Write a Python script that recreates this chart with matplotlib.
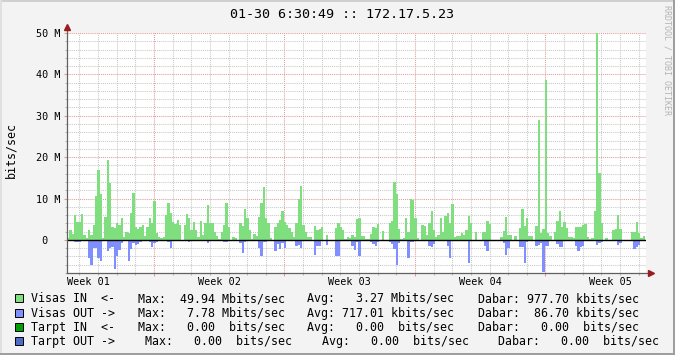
import matplotlib
matplotlib.use("Agg")
import matplotlib.pyplot as plt
import numpy as np
from matplotlib.patches import Rectangle
from matplotlib.lines import Line2D

# chart data (Mbits/sec, one value per 3 hours)
title = "01-30 6:30:49 :: 172.17.5.23"
step_days = 1 / 8
visas_in = [
    0.4, 2.4, 1.5, 6.0, 4.3, 4.3, 6.2, 1.2, 0.5, 2.4,
    1.2, 3.5, 10.5, 17.0, 11.0, 0.4, 5.6, 19.4, 13.7, 3.2,
    2.8, 4.0, 3.6, 5.2, 0.6, 2.0, 1.6, 6.5, 11.3, 3.0,
    2.7, 3.2, 3.7, 1.0, 3.2, 5.2, 4.2, 9.3, 1.6, 0.6,
    0.5, 0.8, 6.0, 8.9, 6.5, 4.4, 3.9, 4.8, 3.6, 0.0,
    3.6, 6.3, 5.2, 2.4, 4.4, 2.5, 0.6, 4.6, 1.2, 4.0,
    8.5, 4.0, 4.2, 2.0,
    1.0, 0.2, 2.0, 3.6, 9.0, 3.2, 0.0, 0.8, 0.4, 0.0,
    4.2, 3.4, 7.5, 5.4, 2.4, 0.2, 1.5, 1.0, 5.6, 8.9,
    12.7, 5.2, 4.0, 0.4, 0.0, 3.2, 4.2, 4.8, 7.0, 4.4,
    3.6, 2.8, 2.0, 0.6, 4.0, 9.8, 13.0, 3.6, 2.0, 0.6,
    0.6, 0.0, 3.4, 2.4, 2.7, 3.0, 0.0, 1.1, 0.0, 0.0,
    0.0, 2.8, 4.0, 3.2, 2.4, 0.2, 0.6, 0.4, 1.2, 0.6, 5.0, 5.2,
    1.0, 1.0, 0.2, 0.2, 1.5, 3.2, 2.8, 3.9, 0.0, 2.2,
    0.0, 0.0, 4.0, 4.6, 14.1, 11.1, 2.6, 0.2, 0.4, 5.2,
    2.0, 10.0, 9.7, 5.2, 0.4, 0.0, 3.6, 3.4, 1.2, 4.0,
    7.0, 2.3, 0.8, 1.2, 5.3, 2.0, 5.8, 6.5, 4.0, 8.6,
    0.6, 1.0, 1.0, 1.6, 1.2, 2.4, 5.8, 4.2, 0.0, 1.8,
    0.0, 0.0, 1.8, 2.0, 4.6, 3.9, 0.0, 0.0, 0.0, 0.0, 0.6, 2.2,
    5.6, 1.2, 1.2, 0.0, 1.0, 0.0, 2.8, 7.4, 3.4, 5.4,
    1.0, 1.0, 0.0, 3.4, 29.0, 1.6, 2.7, 38.6, 1.6, 1.0,
    0.0, 1.9, 4.6, 6.9, 3.0, 4.4, 2.8, 0.6, 0.6, 0.4,
    3.1, 3.0, 3.2, 3.6, 3.9, 0.6, 0.2, 0.4, 7.0, 49.9,
    16.1, 4.2, 0.0, 0.4, 0.0, 0.0, 2.4, 2.6, 5.9, 2.6,
    0.0, 0.0, 0.0, 0.0, 1.8, 1.8, 4.4, 1.6, 0.4, 1.0,
]
visas_out = [
    0, 0, 0, 0.4, 0.6, 0.4, 0, 0, 0, 4.4,
    6.0, 2.0, 2.0, 4.4, 5.0, 0, 0, 2.8, 2.0, 1.6,
    7.1, 4.0, 2.4, 0.8, 0, 0, 5.0, 2.3, 0.8, 1.2,
    1.0, 0.6, 0, 0, 0, 0.5, 1.6, 0.8, 0.4, 0,
    0, 0, 0, 0.4, 2.0, 0, 0, 0, 0, 0,
    0, 0, 0.4, 0, 0, 0, 0, 0, 0, 0,
    0.8, 0, 0, 0,
    0, 0, 0, 0.4, 0.6, 0, 0, 0, 0, 0,
    0.8, 3.2, 0.6, 0, 0, 0, 0, 0, 2.0, 4.0,
    0.4, 0.4, 0, 0, 0, 2.6, 1.0, 2.3, 0.8, 2.0,
    0, 0, 0, 0, 1.4, 1.2, 2.0, 0, 0, 0,
    0, 0, 3.6, 1.4, 1.4, 0, 0, 1.2, 0, 0,
    0, 3.9, 3.9, 0, 0, 0, 0, 0, 1.4, 2.4, 0.4, 3.9,
    0, 0, 0, 0, 0.6, 1.0, 1.5, 0.4, 0, 0,
    0, 0, 0.6, 1.0, 2.3, 6.0, 0.8, 0, 0, 0,
    4.4, 0.6, 0.6, 0, 0, 0, 0, 0, 0, 1.4,
    1.8, 1.0, 0, 0, 0, 0, 0, 1.4, 4.4, 0,
    0, 0, 0, 0, 0, 0, 5.5, 0, 0, 0,
    0, 0, 0, 1.4, 2.8, 0, 0, 0, 0, 0, 0, 0.8,
    3.6, 2.0, 0, 0, 0, 0, 1.8, 1.6, 5.5, 0.6,
    0, 0, 0, 1.5, 1.2, 0.8, 7.78, 1.4, 1.4, 0,
    0, 0, 1.0, 1.8, 1.8, 0, 0, 0, 0, 0,
    1.4, 2.8, 1.6, 1.4, 0, 0, 0, 0, 0, 1.2,
    0.8, 0.5, 0, 0, 0, 0, 0, 0, 1.2, 0.8,
    0, 0, 0, 0, 0, 2.3, 1.6, 1.2, 0, 0,
]
week_labels = ["Week 01", "Week 02", "Week 03", "Week 04", "Week 05"]
first_week_start = 4.667 - 7  # days from left edge of plot
first_day_start = 0.667
y_ticks = [0, 10, 20, 30, 40, 50]
y_tick_labels = [" 0  ", "10 M", "20 M", "30 M", "40 M", "50 M"]

legend_names = ["Visas IN  <-", "Visas OUT ->", "Tarpt IN  <-", "Tarpt OUT ->"]
legend_colors = ["#7FDF7F", "#7F8FFF", "#00A000", "#4C6CC8"]
max_vals = [49.94, 7.78, 0.00, 0.00]
max_units = ["M", "M", " ", " "]
avg_vals = [3.27, 717.01, 0.00, 0.00]
avg_units = ["M", "k", " ", " "]
cur_vals = [977.70, 86.70, 0.00, 0.00]
cur_units = ["k", "k", " ", " "]

W, H = 675, 355
fig = plt.figure(figsize=(W / 100, H / 100), dpi=100, facecolor="#F3F3F3")
ax = fig.add_axes([67 / W, 1 - 273 / H, 579 / W, 240 / H])
ax.set_facecolor("white")

n = len(visas_in)
edges = np.arange(n + 1) * step_days
ax.stairs(visas_in, edges, baseline=0, fill=True, color="#7FDF7F", lw=0)
ax.stairs(-np.array(visas_out), edges, baseline=0, fill=True, color="#7F8FFF", lw=0)
ax.axhline(0, color="black", lw=1.0, zorder=3)

xmax = 31.06
ax.set_xlim(0, xmax)
ax.set_ylim(-8, 50)

# grid
ax.set_axisbelow(True)
ax.set_xticks(np.arange(first_week_start + 7, xmax, 7))
ax.set_xticks(np.arange(first_day_start, xmax, 1), minor=True)
ax.set_yticks(np.arange(0, 51, 10))
ax.set_yticks(np.arange(-8, 51, 2), minor=True)
ax.grid(which="minor", color="#C8C8C8", ls=(0, (1, 1)), lw=0.75)
ax.grid(which="major", color="#E39A9A", ls=(0, (1, 1)), lw=0.75)
ax.tick_params(which="major", length=2.2, width=0.75, color="#E39A9A",
               labelleft=False, labelbottom=False)
ax.tick_params(which="minor", length=1.6, width=0.75, color="#B8B8B8")

for s in ["top", "right", "left", "bottom"]:
    ax.spines[s].set_visible(False)
axis_col = "#606060"
arrow_col = "#9A1C1C"
ax.add_line(Line2D([0, 0], [0, 1.017], transform=ax.transAxes, color=axis_col,
                   lw=0.9, clip_on=False, zorder=4))
ax.add_line(Line2D([0, 1.003], [0, 0], transform=ax.transAxes, color=axis_col,
                   lw=0.9, clip_on=False, zorder=4))
ax.plot([0], [1.025], marker="^", ms=4.2, color=arrow_col, transform=ax.transAxes,
        clip_on=False, zorder=5)
ax.plot([1.008], [0], marker=">", ms=4.2, color=arrow_col, transform=ax.transAxes,
        clip_on=False, zorder=5)

mono = "DejaVu Sans Mono"
for v, lab in zip(y_ticks, y_tick_labels):
    ax.text(-31 / 579, v, lab, transform=ax.get_yaxis_transform(), ha="left",
            va="center_baseline", family=mono, fontsize=7.3)
for k, lab in enumerate(week_labels):
    ax.text(first_week_start + 3.5 + 7 * k, -12 / 240, lab,
            transform=ax.get_xaxis_transform(), ha="center", va="baseline",
            family=mono, fontsize=7.3)

fig.text(341.6 / W, 1 - 18.3 / H, title, ha="center", va="baseline",
         family=mono, fontsize=9.6)
fig.text(11 / W, 1 - 150 / H, "bits/sec", rotation=90, ha="center", va="center",
         family=mono, fontsize=8.4)
fig.text(667 / W, 1 - 60 / H, "RRDTOOL / TOBI OETIKER", rotation=270, ha="center",
         va="center", family=mono, fontsize=6, color="#B4B4B4")

# legend
baselines = [302.3, 316.6, 330.8, 345.0]
col_x = [[137.7, 307.3, 477.7]] * 3 + [[145.0, 321.7, 498.3]]
for r in range(4):
    yb = 1 - baselines[r] / H
    fig.patches.append(Rectangle((15.3 / W, yb), 7.6 / W, 8 / H, transform=fig.transFigure,
                                 facecolor=legend_colors[r], edgecolor="black", lw=0.7))
    fig.text(30.7 / W, yb, legend_names[r], ha="left", va="baseline", family=mono, fontsize=8.37)
    parts = ["Max: %6.2f %sbits/sec" % (max_vals[r], max_units[r]),
             "Avg: %6.2f %sbits/sec" % (avg_vals[r], avg_units[r]),
             "Dabar: %6.2f %sbits/sec" % (cur_vals[r], cur_units[r])]
    for xp, txt in zip(col_x[r], parts):
        fig.text(xp / W, yb, txt, ha="left", va="baseline", family=mono, fontsize=8.37)

# 3d frame
fig.patches.append(Rectangle((0, 1 - 2 / H), 1, 2 / H, transform=fig.transFigure,
                             facecolor="#CFCFCF", lw=0))
fig.patches.append(Rectangle((0, 0), 1.5 / W, 1, transform=fig.transFigure,
                             facecolor="#E0E0E0", lw=0))
fig.patches.append(Rectangle((0, 0), 1, 2 / H, transform=fig.transFigure,
                             facecolor="#9E9E9E", lw=0))
fig.patches.append(Rectangle((1 - 2 / W, 0), 2 / W, 1, transform=fig.transFigure,
                             facecolor="#9E9E9E", lw=0))

fig.savefig("out.png", dpi=100, facecolor=fig.get_facecolor())
